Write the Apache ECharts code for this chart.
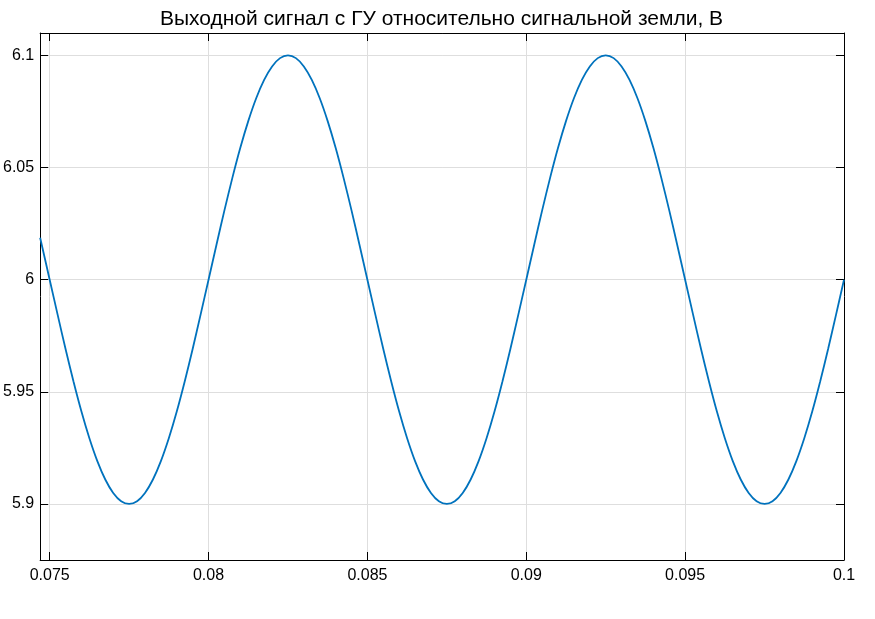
<!DOCTYPE html>
<html>
<head>
<meta charset="utf-8">
<script src="https://cdn.jsdelivr.net/npm/echarts@6/dist/echarts.min.js"></script>
<style>html,body{margin:0;padding:0;background:#fff}#c{width:875px;height:619px}</style>
</head>
<body>
<div id="c"></div>
<script>
var titleText = 'Выходной сигнал с ГУ относительно сигнальной земли, В';
var times = [0.0747,
 0.075,0.07525,0.0755,0.07575,0.076,0.07625,0.0765,0.07675,0.077,0.07725,
 0.0775,0.07775,0.078,0.07825,0.0785,0.07875,0.079,0.07925,0.0795,0.07975,
 0.08,0.08025,0.0805,0.08075,0.081,0.08125,0.0815,0.08175,0.082,0.08225,
 0.0825,0.08275,0.083,0.08325,0.0835,0.08375,0.084,0.08425,0.0845,0.08475,
 0.085,0.08525,0.0855,0.08575,0.086,0.08625,0.0865,0.08675,0.087,0.08725,
 0.0875,0.08775,0.088,0.08825,0.0885,0.08875,0.089,0.08925,0.0895,0.08975,
 0.09,0.09025,0.0905,0.09075,0.091,0.09125,0.0915,0.09175,0.092,0.09225,
 0.0925,0.09275,0.093,0.09325,0.0935,0.09375,0.094,0.09425,0.0945,0.09475,
 0.095,0.09525,0.0955,0.09575,0.096,0.09625,0.0965,0.09675,0.097,0.09725,
 0.0975,0.09775,0.098,0.09825,0.0985,0.09875,0.099,0.09925,0.0995,0.09975,
 0.1];
var voltage = [6.0187,
 6.0,5.9844,5.9691,5.9546,5.9412,5.9293,5.9191,5.9109,5.9049,5.9012,
 5.9,5.9012,5.9049,5.9109,5.9191,5.9293,5.9412,5.9546,5.9691,5.9844,
 6.0,6.0156,6.0309,6.0454,6.0588,6.0707,6.0809,6.0891,6.0951,6.0988,
 6.1,6.0988,6.0951,6.0891,6.0809,6.0707,6.0588,6.0454,6.0309,6.0156,
 6.0,5.9844,5.9691,5.9546,5.9412,5.9293,5.9191,5.9109,5.9049,5.9012,
 5.9,5.9012,5.9049,5.9109,5.9191,5.9293,5.9412,5.9546,5.9691,5.9844,
 6.0,6.0156,6.0309,6.0454,6.0588,6.0707,6.0809,6.0891,6.0951,6.0988,
 6.1,6.0988,6.0951,6.0891,6.0809,6.0707,6.0588,6.0454,6.0309,6.0156,
 6.0,5.9844,5.9691,5.9546,5.9412,5.9293,5.9191,5.9109,5.9049,5.9012,
 5.9,5.9012,5.9049,5.9109,5.9191,5.9293,5.9412,5.9546,5.9691,5.9844,
 6.0];
var xTicks = [0.075, 0.08, 0.085, 0.09, 0.095, 0.1];
var xTickLabels = ['0.075', '0.08', '0.085', '0.09', '0.095', '0.1'];
var yTicks = [5.9, 5.95, 6, 6.05, 6.1];
var yTickLabels = ['5.9', '5.95', '6', '6.05', '6.1'];
var xMin = 0.0747, xMax = 0.1, yMin = 5.875, yMax = 6.11;

function labelFor(ticks, labels) {
  return function (v) {
    for (var i = 0; i < ticks.length; i++) if (Math.abs(ticks[i] - v) < 1e-9) return labels[i];
    return '';
  };
}
var font = '"Liberation Sans", Arial, Helvetica, sans-serif';
var gridColor = '#dedede';
function xAx(pos, show) {
  return {
    type: 'value', position: pos, min: xMin, max: xMax,
    axisLine: { show: true, onZero: false, lineStyle: { color: '#000', width: 1 } },
    axisTick: { show: true, inside: true, length: 8, customValues: xTicks, lineStyle: { color: '#000', width: 1 } },
    axisLabel: { show: show, customValues: xTicks, formatter: labelFor(xTicks, xTickLabels), color: '#000', fontSize: 16, fontFamily: font, margin: 8 },
    splitLine: { show: show, lineStyle: { color: gridColor, width: 1 } }
  };
}
function yAx(pos, show) {
  return {
    type: 'value', position: pos, min: yMin, max: yMax,
    axisLine: { show: true, onZero: false, lineStyle: { color: '#000', width: 1 } },
    axisTick: { show: true, inside: true, length: 8, customValues: yTicks, lineStyle: { color: '#000', width: 1 } },
    axisLabel: { show: show, customValues: yTicks, formatter: labelFor(yTicks, yTickLabels), color: '#000', fontSize: 16, fontFamily: font, margin: 6 },
    splitLine: { show: show, lineStyle: { color: gridColor, width: 1 } }
  };
}
var chart = echarts.init(document.getElementById('c'), null, { renderer: 'canvas' });
var data = times.map(function (t, i) { return [t, voltage[i]]; });
chart.setOption({
  animation: false,
  backgroundColor: '#fff',
  title: {
    text: titleText, left: 441.5, textAlign: 'center', top: 9, padding: 0,
    textStyle: { fontFamily: font, fontSize: 21, fontWeight: 'normal', color: '#000' }
  },
  grid: { left: 40, right: 31, top: 33, bottom: 59, containLabel: false },
  xAxis: [xAx('bottom', true), xAx('top', false)],
  yAxis: [yAx('left', true), yAx('right', false)],
  series: [{
    type: 'line', data: data, xAxisIndex: 0, yAxisIndex: 0,
    showSymbol: false, smooth: 0.3, clip: true,
    lineStyle: { color: '#0072BD', width: 1.8 }
  }]
});
</script>
</body>
</html>
